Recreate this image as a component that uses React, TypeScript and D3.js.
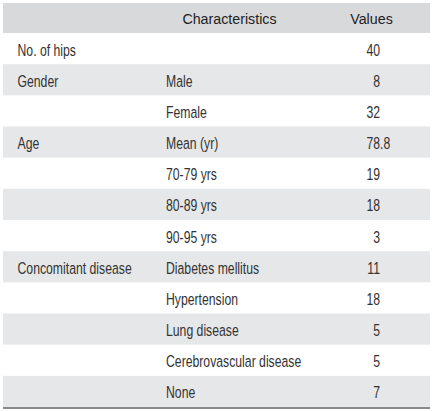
import React from "react";
import * as d3 from "d3";

const groups = ["No. of hips", "Gender", "", "Age", "", "", "", "Concomitant disease", "", "", "", ""];
const characteristics = ["", "Male", "Female", "Mean (yr)", "70-79 yrs", "80-89 yrs", "90-95 yrs", "Diabetes mellitus", "Hypertension", "Lung disease", "Cerebrovascular disease", "None"];
const values = ["40", "8", "32", "78.8", "19", "18", "3", "11", "18", "5", "5", "7"];
const headers = ["", "Characteristics", "Values"];

const W = 434;
const H = 411;
const FONT = "'Liberation Sans', Arial, sans-serif";

type TProps = { x: number; y: number; anchor?: string; size: number; sx: number; fill: string; children: React.ReactNode };
function T({ x, y, anchor = "start", size, sx, fill, children }: TProps) {
  return (
    <text
      transform={`translate(${x},${y}) scale(${sx},1)`}
      textAnchor={anchor}
      fontFamily={FONT}
      fontSize={size}
      fill={fill}
    >
      {children}
    </text>
  );
}

export default function App() {
  const left = 3;
  const right = 430;
  const headTop = 3;
  const headBottom = 33;
  const bodyBottom = 407;
  const y = d3.scaleLinear().domain([0, values.length]).range([headBottom, bodyBottom]);
  const rowH = y(1) - y(0);
  const col1 = 17.5;
  const col2 = 166;
  const decX = 380;
  const textColor = "#333";
  const headColor = "#222";
  const fs = 17;
  const sx = 0.72;
  const hfs = 15.5;
  const hsx = 0.92;

  return (
    <svg width={W} height={H} style={{ position: "absolute", left: 0, top: 0, background: "#fff" }}>
      <rect x={left} y={headTop} width={right - left} height={headBottom - headTop} fill="#d8d9db" />
      <T x={229.5} y={23.5} anchor="middle" size={hfs} sx={hsx} fill={headColor}>{headers[1]}</T>
      <T x={371.5} y={23.5} anchor="middle" size={hfs} sx={hsx} fill={headColor}>{headers[2]}</T>
      {values.map((v, i) => {
        const top = y(i);
        const base = top + rowH / 2 + 7;
        const parts = v.split(".");
        return (
          <g key={i}>
            {i % 2 === 1 && (
              <rect x={left} y={top} width={right - left} height={rowH} fill="#e6e7e8" />
            )}
            <T x={col1} y={base} size={fs} sx={sx} fill={textColor}>{groups[i]}</T>
            <T x={col2} y={base} size={fs} sx={sx} fill={textColor}>{characteristics[i]}</T>
            <T x={decX} y={base} anchor="end" size={fs} sx={sx} fill={textColor}>{parts[0]}</T>
            {parts.length > 1 && (
              <T x={decX} y={base} anchor="start" size={fs} sx={sx} fill={textColor}>{"." + parts[1]}</T>
            )}
          </g>
        );
      })}
      <rect x={left} y={bodyBottom} width={right - left} height={2} fill="#8a8a8a" />
    </svg>
  );
}
